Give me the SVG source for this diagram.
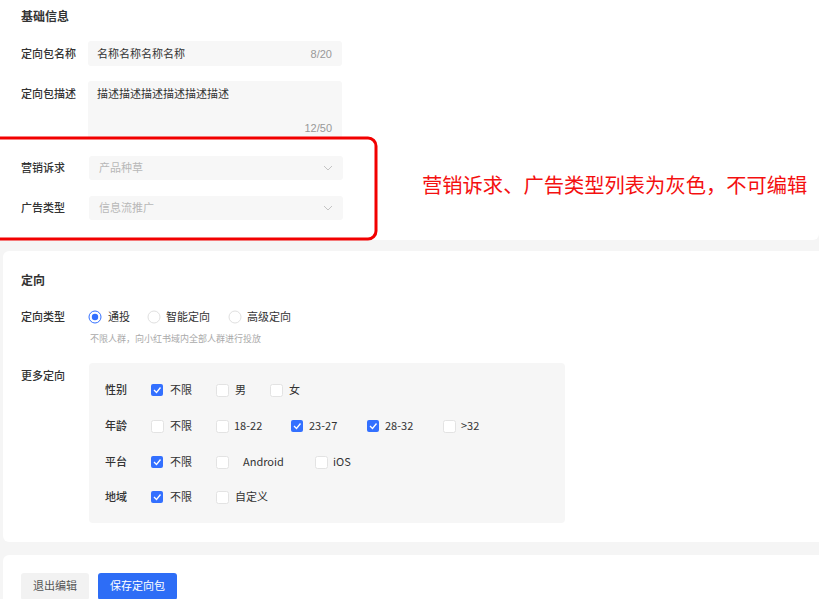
<svg xmlns="http://www.w3.org/2000/svg" width="819" height="599" viewBox="0 0 819 599">
<style>
.t{font-family:"Noto Sans CJK SC","Liberation Sans",sans-serif;}
.lbl{font-size:11px;fill:#333;font-weight:500;}
.h{font-size:12px;fill:#333;font-weight:600;}
.v{font-size:11px;fill:#333;}
.ph{font-size:11px;fill:#b8b8b8;}
.cnt{font-size:11px;fill:#999;font-family:"Liberation Sans",sans-serif;}
.opt{font-size:11px;fill:#333;}
.hint{font-size:9px;fill:#aaa;}
.inp{fill:#f7f7f7;}
.cb{fill:#fff;stroke:#e3e3e3;stroke-width:1;}
.cbon{fill:#3370ff;}
.chk{fill:none;stroke:#fff;stroke-width:1.3;}
.chev{fill:none;stroke:#c4c4c4;stroke-width:1;}
</style>
<rect x="0" y="0" width="819" height="599" fill="#f5f5f5"/>
<rect x="-10" y="-10" width="829" height="250" rx="6" fill="#fff"/>
<rect x="3" y="251" width="826" height="291" rx="6" fill="#fff"/>
<rect x="3" y="555" width="826" height="60" rx="6" fill="#fff"/>

<g id="basic-info">
<text class="t h" x="21" y="21">基础信息</text>
<g id="name-field">
<text class="t lbl" x="21" y="58">定向包名称</text>
<rect class="inp" x="88" y="41" width="254" height="25" rx="3"/>
<text class="t v" x="97" y="58">名称名称名称名称</text>
<text class="cnt" x="332" y="58" text-anchor="end">8/20</text>
</g>
<g id="desc-field">
<text class="t lbl" x="21" y="98">定向包描述</text>
<rect class="inp" x="88" y="81" width="254" height="58" rx="3"/>
<text class="t v" x="97" y="98">描述描述描述描述描述描述</text>
<text class="cnt" x="332" y="132" text-anchor="end">12/50</text>
</g>
<g id="marketing-field">
<text class="t lbl" x="21" y="172">营销诉求</text>
<rect class="inp" x="89" y="156" width="254" height="24" rx="3"/>
<text class="t ph" x="99" y="172">产品种草</text>
<path class="chev" d="M324 166 L328 170 L332 166"/>
</g>
<g id="adtype-field">
<text class="t lbl" x="21" y="212">广告类型</text>
<rect class="inp" x="89" y="196" width="254" height="24" rx="3"/>
<text class="t ph" x="99" y="212">信息流推广</text>
<path class="chev" d="M324 206 L328 210 L332 206"/>
</g>
</g>

<g id="highlight">
<rect x="-20" y="138" width="396" height="101" rx="8" fill="none" stroke="#f20000" stroke-width="3"/>
</g>
<g id="annotation">
<text class="t" x="422" y="193" font-size="20.3" fill="#f41010">营销诉求、广告类型列表为灰色，不可编辑</text>
</g>

<g id="targeting">
<text class="t h" x="21" y="285">定向</text>
<text class="t lbl" x="21" y="321">定向类型</text>
<g id="radio-tongtou">
<circle cx="95" cy="317" r="6" fill="#fff" stroke="#3370ff" stroke-width="1"/>
<circle cx="95" cy="317" r="3.2" fill="#3370ff"/>
<text class="t opt" x="108" y="321">通投</text>
</g>
<g id="radio-smart">
<circle cx="154" cy="317" r="6" fill="#fff" stroke="#e0e0e0" stroke-width="1"/>
<text class="t opt" x="166" y="321">智能定向</text>
</g>
<g id="radio-advanced">
<circle cx="235" cy="317" r="6" fill="#fff" stroke="#e0e0e0" stroke-width="1"/>
<text class="t opt" x="247" y="321">高级定向</text>
</g>
<text class="t hint" x="90" y="342">不限人群，向小红书域内全部人群进行投放</text>

<text class="t lbl" x="21" y="380">更多定向</text>
<rect x="89" y="363" width="476" height="160" rx="4" fill="#f6f6f6"/>

<g id="row-gender">
<text class="t lbl" x="105" y="394">性别</text>
<rect class="cbon" x="151" y="384" width="12" height="12" rx="2"/><path class="chk" d="M154 390 L156.5 392.5 L160.5 387.5"/>
<text class="t opt" x="170" y="394">不限</text>
<rect class="cb" x="216.5" y="384.5" width="12" height="12" rx="2"/>
<text class="t opt" x="235" y="394">男</text>
<rect class="cb" x="270.5" y="384.5" width="12" height="12" rx="2"/>
<text class="t opt" x="289" y="394">女</text>
</g>
<g id="row-age">
<text class="t lbl" x="105" y="430">年龄</text>
<rect class="cb" x="151.5" y="420.5" width="12" height="12" rx="2"/>
<text class="t opt" x="170" y="430">不限</text>
<rect class="cb" x="216.5" y="420.5" width="12" height="12" rx="2"/>
<text class="t opt" x="234" y="430">18-22</text>
<rect class="cbon" x="291" y="420" width="12" height="12" rx="2"/><path class="chk" d="M294 426 L296.5 428.5 L300.5 423.5"/>
<text class="t opt" x="309" y="430">23-27</text>
<rect class="cbon" x="367" y="420" width="12" height="12" rx="2"/><path class="chk" d="M370 426 L372.5 428.5 L376.5 423.5"/>
<text class="t opt" x="385" y="430">28-32</text>
<rect class="cb" x="443.5" y="420.5" width="12" height="12" rx="2"/>
<text class="t opt" x="461" y="430">&gt;32</text>
</g>
<g id="row-platform">
<text class="t lbl" x="105" y="466">平台</text>
<rect class="cbon" x="151" y="456" width="12" height="12" rx="2"/><path class="chk" d="M154 462 L156.5 464.5 L160.5 459.5"/>
<text class="t opt" x="170" y="466">不限</text>
<rect class="cb" x="216.5" y="456.5" width="12" height="12" rx="2"/>
<text class="t opt" x="243" y="466">Android</text>
<rect class="cb" x="315.5" y="456.5" width="12" height="12" rx="2"/>
<text class="t opt" x="333" y="466">iOS</text>
</g>
<g id="row-region">
<text class="t lbl" x="105" y="501">地域</text>
<rect class="cbon" x="151" y="491" width="12" height="12" rx="2"/><path class="chk" d="M154 497 L156.5 499.5 L160.5 494.5"/>
<text class="t opt" x="170" y="501">不限</text>
<rect class="cb" x="216.5" y="491.5" width="12" height="12" rx="2"/>
<text class="t opt" x="235" y="501">自定义</text>
</g>
</g>

<g id="actions">
<g id="btn-exit">
<rect x="21" y="573" width="68" height="27" rx="3" fill="#f2f2f2"/>
<text class="t" x="55" y="590" font-size="11" fill="#555" text-anchor="middle">退出编辑</text>
</g>
<g id="btn-save">
<rect x="98" y="573" width="79" height="27" rx="3" fill="#2d6df6"/>
<text class="t" x="137.5" y="590" font-size="11" fill="#fff" text-anchor="middle">保存定向包</text>
</g>
</g>
</svg>
